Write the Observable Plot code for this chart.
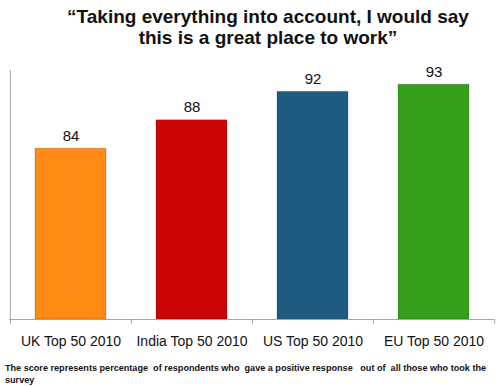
<!DOCTYPE html>
<html><head><meta charset="utf-8">
<script src="https://cdn.jsdelivr.net/npm/d3@7"></script>
<script src="https://cdn.jsdelivr.net/npm/@observablehq/plot@0.6"></script>
<style>
body{margin:0;background:#fff;font-family:"Liberation Sans",Arial,sans-serif;width:500px;height:386px;overflow:hidden}
#title{height:55px;box-sizing:border-box;padding-top:6px;padding-left:36px;text-align:center;font-weight:bold;font-size:19px;line-height:21px;color:#111}
#note{padding-left:5px;margin-top:7px;font-weight:bold;font-size:9.1px;line-height:12px;color:#111;white-space:pre-wrap}
svg{display:block}
</style></head>
<body>
<div id="title">“Taking everything into account, I would say<br>this is a great place to work”</div>
<div id="chart"></div>
<div id="note">The score represents percentage  of respondents who  gave a positive response   out of  all those who took the survey</div>
<script>
const categories = ["UK Top 50 2010", "India Top 50 2010", "US Top 50 2010", "EU Top 50 2010"];
const scores = [84, 88, 92, 93];
const yDomain = [60, 95];

const data = categories.map((c, i) => ({category: c, score: scores[i]}));
const barColors = ["#FF8A14", "#CC0606", "#1F5A80", "#34A01B"];
const W = 500, mL = 9, mR = 6;
const bw = (W - mL - mR) / categories.length;

const chart = Plot.plot({
  width: W, height: 300,
  marginTop: 15, marginBottom: 36, marginLeft: mL, marginRight: mR,
  style: {fontFamily: "'Liberation Sans', Arial, sans-serif", background: "white"},
  x: {domain: categories, padding: 0, axis: null},
  y: {domain: yDomain, axis: null},
  color: {domain: categories, range: barColors},
  marks: [
    Plot.barY(data, {x: "category", y1: yDomain[0], y2: "score", fill: "category", insetLeft: 25, insetRight: 25, stroke: "black", strokeOpacity: 0.18}),
    Plot.ruleY([yDomain[0]], {stroke: "#a6a6a6"}),
    Plot.ruleX([categories[0]], {x: d => d, y1: yDomain[0], y2: yDomain[1], dx: -bw / 2, stroke: "#a6a6a6"}),
    Plot.ruleX(categories, {x: d => d, y1: yDomain[0], y2: yDomain[0], dx: -bw / 2, insetBottom: -5, stroke: "#a6a6a6"}),
    Plot.ruleX([categories[categories.length - 1]], {x: d => d, y1: yDomain[0], y2: yDomain[0], dx: bw / 2, insetBottom: -5, stroke: "#a6a6a6"}),
    Plot.text(data, {x: "category", y: "score", text: d => String(d.score), dy: -13, fontSize: 15, fill: "#111"}),
    Plot.text(data, {x: "category", y: yDomain[0], text: "category", dy: 22, fontSize: 14, fill: "#111"})
  ]
});
document.getElementById("chart").appendChild(chart);
</script>
</body></html>
